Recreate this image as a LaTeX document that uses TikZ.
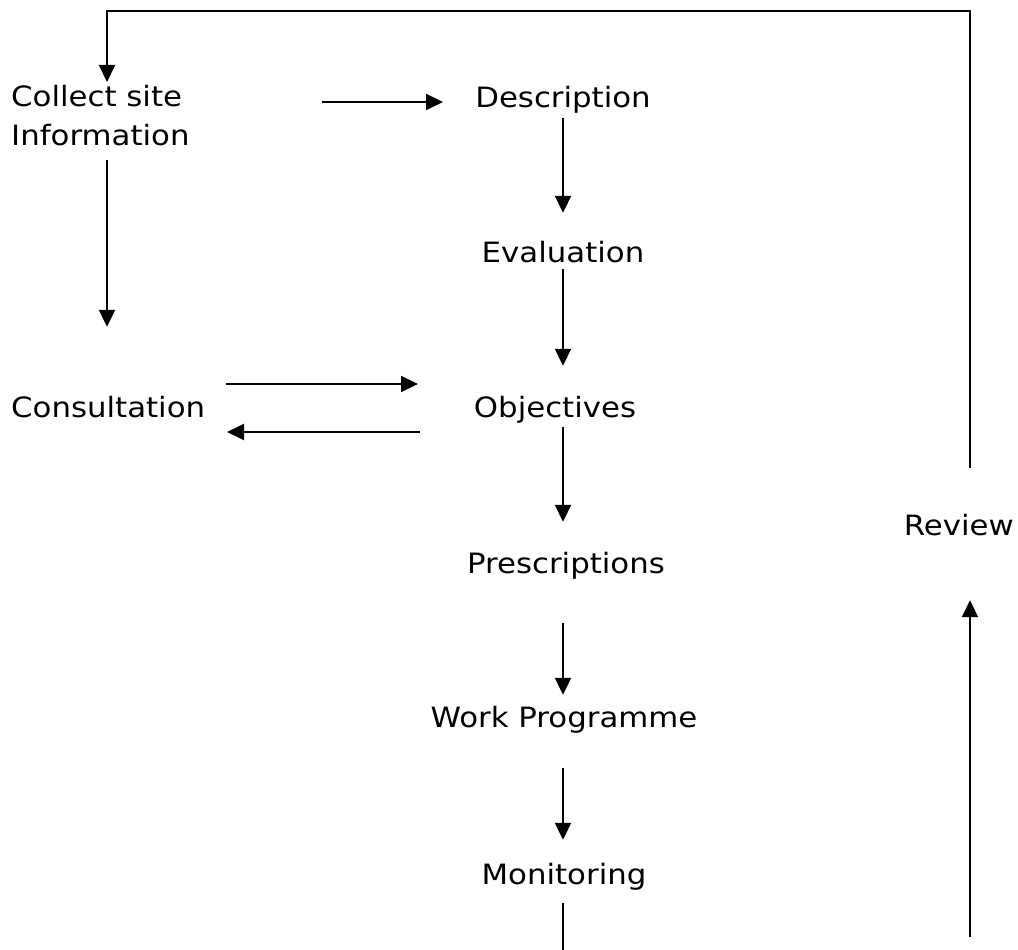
\documentclass[tikz,border=0pt]{standalone}
\usepackage{fontspec}
\setmainfont{DejaVu Sans}[FakeStretch=1.1]
\usetikzlibrary{arrows.meta}
\begin{document}
\begin{tikzpicture}[x=1pt,y=-1pt,
  lbl/.style={inner sep=0pt,font=\fontsize{28}{39}\selectfont},
  one/.style={lbl,text height=21pt,text depth=6.5pt,anchor=base},
  conn/.style={line width=2pt},
  arr/.style={conn,-{Triangle[length=17pt,width=16pt]}}]
\useasboundingbox (0,0) rectangle (1018,950);
% nodes
\node[lbl,anchor=north west,align=left] (collect) at (11,85) {Collect site\\Information};
\node[one] (desc) at (563,107) {Description};
\node[one] (eval) at (563,262) {Evaluation};
\node[one] (obj) at (555,417) {Objectives};
\node[one,anchor=base west] (consult) at (11,417) {Consultation};
\node[one] (presc) at (566,573) {Prescriptions};
\node[one] (work) at (564,727) {Work Programme};
\node[one] (mon) at (564,884) {Monitoring};
\node[one,anchor=base east] (review) at (1014,535) {Review};
\coordinate (toploop) at (107,11);
\coordinate (revstart) at (970,937);
\coordinate (monend) at (563,950);
% connectors
\draw[arr,shorten <=46pt,shorten >=3pt] (review.north -| revstart) |- (toploop) -- (collect.north -| toploop);
\draw[arr,shorten <=75pt,shorten >=69pt] (collect.north -| toploop) -- (consult.north -| toploop);
\draw[arr,shorten <=311pt,shorten >=120pt] ([yshift=-17pt]collect.north west) -- ([yshift=5pt]desc.base);
\draw[arr,shorten <=4.5pt,shorten >=28pt] (desc.south -| monend) -- (eval.north -| monend);
\draw[arr,shorten <=0.5pt,shorten >=30pt] (eval.south -| monend) -- (obj.north -| monend);
\draw[arr,shorten <=3.5pt,shorten >=30pt] (obj.south -| monend) -- (presc.north -| monend);
\draw[arr,shorten <=43.5pt,shorten >=11pt] (presc.south -| monend) -- (work.north -| monend);
\draw[arr,shorten <=34.5pt,shorten >=23pt] (work.south -| monend) -- (mon.north -| monend);
\draw[conn,shorten <=12.5pt] (mon.south -| monend) -- (monend);
\draw[arr,shorten >=58.5pt] (revstart) -- (revstart |- review.south);
\draw[arr,shorten <=215pt,shorten >=137pt] ([yshift=33pt]consult.base west) -- ([yshift=33pt]obj.base);
\draw[arr,shorten <=135pt,shorten >=216pt] ([yshift=-15pt]obj.base) -- ([yshift=-15pt]consult.base west);
\end{tikzpicture}
\end{document}
